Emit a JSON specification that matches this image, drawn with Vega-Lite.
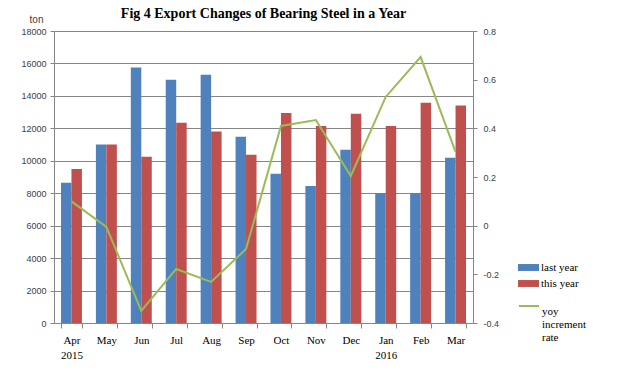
{
  "$schema": "https://vega.github.io/schema/vega-lite/v6.json",
  "width": 419,
  "height": 292,
  "autosize": "none",
  "padding": {"left": 54, "top": 31, "right": 147, "bottom": 54},
  "background": "white",
  "title": {
    "text": "Fig 4 Export Changes of Bearing Steel in a Year",
    "font": "Liberation Serif",
    "fontSize": 14,
    "fontWeight": "bold",
    "color": "#000000",
    "anchor": "middle",
    "frame": "group",
    "offset": 6,
    "dy": 13
  },
  "datasets": {
    "bars": [
      {"month": "Apr", "series": "last year", "value": 8650},
      {"month": "Apr", "series": "this year", "value": 9500},
      {"month": "May", "series": "last year", "value": 11000},
      {"month": "May", "series": "this year", "value": 11000},
      {"month": "Jun", "series": "last year", "value": 15750},
      {"month": "Jun", "series": "this year", "value": 10250},
      {"month": "Jul", "series": "last year", "value": 15000},
      {"month": "Jul", "series": "this year", "value": 12350},
      {"month": "Aug", "series": "last year", "value": 15300},
      {"month": "Aug", "series": "this year", "value": 11800},
      {"month": "Sep", "series": "last year", "value": 11480},
      {"month": "Sep", "series": "this year", "value": 10370},
      {"month": "Oct", "series": "last year", "value": 9200},
      {"month": "Oct", "series": "this year", "value": 12950},
      {"month": "Nov", "series": "last year", "value": 8450},
      {"month": "Nov", "series": "this year", "value": 12150},
      {"month": "Dec", "series": "last year", "value": 10680},
      {"month": "Dec", "series": "this year", "value": 12900},
      {"month": "Jan", "series": "last year", "value": 8000},
      {"month": "Jan", "series": "this year", "value": 12150},
      {"month": "Feb", "series": "last year", "value": 8000},
      {"month": "Feb", "series": "this year", "value": 13580},
      {"month": "Mar", "series": "last year", "value": 10180},
      {"month": "Mar", "series": "this year", "value": 13400}
    ],
    "rate": [
      {"month": "Apr", "series": "yoy increment rate", "rate": 0.1},
      {"month": "May", "series": "yoy increment rate", "rate": -0.005},
      {"month": "Jun", "series": "yoy increment rate", "rate": -0.35},
      {"month": "Jul", "series": "yoy increment rate", "rate": -0.178},
      {"month": "Aug", "series": "yoy increment rate", "rate": -0.231},
      {"month": "Sep", "series": "yoy increment rate", "rate": -0.096},
      {"month": "Oct", "series": "yoy increment rate", "rate": 0.41},
      {"month": "Nov", "series": "yoy increment rate", "rate": 0.434},
      {"month": "Dec", "series": "yoy increment rate", "rate": 0.204},
      {"month": "Jan", "series": "yoy increment rate", "rate": 0.529},
      {"month": "Feb", "series": "yoy increment rate", "rate": 0.693},
      {"month": "Mar", "series": "yoy increment rate", "rate": 0.303}
    ]
  },
  "config": {
    "view": {"stroke": null},
    "axis": {
      "labelFont": "Liberation Sans",
      "labelFontSize": 9,
      "labelColor": "#404040",
      "domainColor": "#868686",
      "tickColor": "#868686",
      "gridColor": "#868686"
    }
  },
  "encoding": {
    "x": {
      "field": "month",
      "type": "nominal",
      "sort": ["Apr","May","Jun","Jul","Aug","Sep","Oct","Nov","Dec","Jan","Feb","Mar"],
      "scale": {"paddingInner": 0.4, "paddingOuter": 0.2},
      "axis": {
        "title": null,
        "labelAngle": 0,
        "labelFont": "Liberation Serif",
        "labelFontSize": 11,
        "labelColor": "#000000",
        "labelPadding": 6,
        "labelLineHeight": 15,
        "tickBand": "extent",
        "tickSize": 5,
        "labelExpr": "datum.value == 'Apr' ? ['Apr', '2015'] : datum.value == 'Jan' ? ['Jan', '2016'] : datum.value"
      }
    }
  },
  "layer": [
    {
      "data": {"name": "bars"},
      "mark": {"type": "bar"},
      "encoding": {
        "xOffset": {"field": "series", "type": "nominal", "sort": ["last year", "this year"]},
        "y": {
          "field": "value",
          "type": "quantitative",
          "scale": {"domain": [0, 18000], "nice": false},
          "axis": {
            "values": [0,2000,4000,6000,8000,10000,12000,14000,16000,18000],
            "format": "d",
            "grid": true,
            "tickSize": 4,
            "labelPadding": 4,
            "title": "ton",
            "titleAngle": 0,
            "titleX": -18,
            "titleY": -12,
            "titleAlign": "center",
            "titleBaseline": "middle",
            "titleFont": "Liberation Sans",
            "titleFontSize": 10,
            "titleFontWeight": "normal",
            "titleColor": "#404040"
          }
        },
        "fill": {
          "field": "series",
          "type": "nominal",
          "scale": {"domain": ["last year", "this year"], "range": ["#4F81BD", "#C0504D"]},
          "legend": {
            "title": null,
            "orient": "none",
            "legendX": 464,
            "legendY": 226,
            "symbolType": "M-1,-0.33H1V0.33H-1Z",
            "symbolSize": 441,
            "symbolStrokeWidth": 0,
            "labelFont": "Liberation Serif",
            "labelFontSize": 11,
            "labelColor": "#000000",
            "labelOffset": 2,
            "rowPadding": 0
          }
        }
      }
    },
    {
      "data": {"name": "rate"},
      "mark": {"type": "line", "strokeWidth": 2},
      "encoding": {
        "y": {
          "field": "rate",
          "type": "quantitative",
          "scale": {"domain": [-0.4, 0.8], "nice": false, "zero": false},
          "axis": {
            "orient": "right",
            "values": [-0.4,-0.2,0,0.2,0.4,0.6,0.8],
            "labelExpr": "replace(datum.value == 0 ? '0' : format(datum.value, '.1f'), '\u2212', '-')",
            "grid": false,
            "tickSize": 4,
            "labelPadding": 6,
            "title": null
          }
        },
        "stroke": {
          "field": "series",
          "type": "nominal",
          "scale": {"domain": ["yoy increment rate"], "range": ["#9BBB59"]},
          "legend": {
            "title": null,
            "orient": "none",
            "legendX": 464,
            "legendY": 264,
            "symbolType": "stroke",
            "symbolSize": 400,
            "symbolStrokeWidth": 2,
            "labelFont": "Liberation Serif",
            "labelFontSize": 11,
            "labelColor": "#000000",
            "labelOffset": 2,
            "labelBaseline": "top",
            "labelLineHeight": 14,
            "labelExpr": "['yoy', 'increment', 'rate']"
          }
        }
      }
    }
  ],
  "resolve": {"scale": {"y": "independent"}}
}
